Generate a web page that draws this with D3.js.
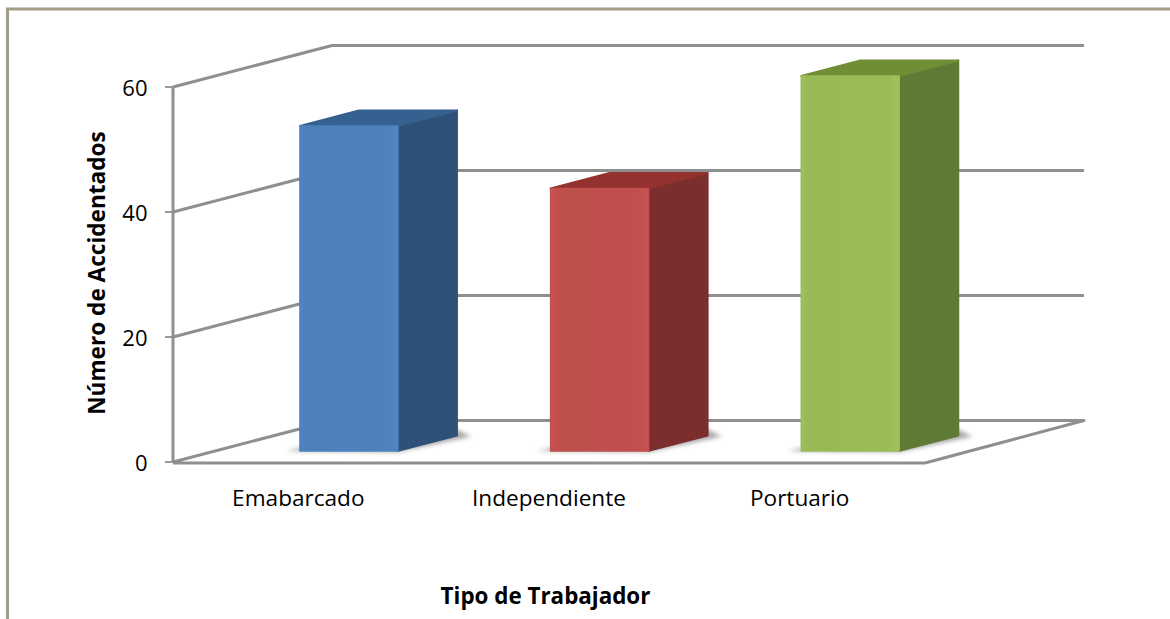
<!DOCTYPE html>
<html><head><meta charset="utf-8">
<script src="https://cdn.jsdelivr.net/npm/d3@7/dist/d3.min.js"></script>
<style>html,body{margin:0;padding:0;background:#fff}svg{display:block}text{font-family:"Open Sans",sans-serif;fill:#000}</style>
</head><body><div id="c"></div>
<script>
const categories = ["Emabarcado","Independiente","Portuario"];
const values = [52,42,60];
const tickValues = [0,20,40,60];
const frontColors = ["#4f81bd","#c0504d","#9bbb59"];
const topColors = ["#35608f","#93312f","#6f8f36"];
const sideColors = ["#2f5177","#7b2f2d","#5f7a34"];
const xTitle = "Tipo de Trabajador";
const yTitle = "Número de Accidentados";

const W=1170,H=619;
const svg=d3.select("#c").append("svg").attr("width",W).attr("height",H);
const defs=svg.append("defs");
const blur=defs.append("filter").attr("id","soft").attr("x","-5%").attr("y","-5%").attr("width","110%").attr("height","110%");
blur.append("feGaussianBlur").attr("stdDeviation",0.7);
const sh=defs.append("filter").attr("id","shadow").attr("x","-20%").attr("y","-200%").attr("width","140%").attr("height","500%");
sh.append("feGaussianBlur").attr("stdDeviation",2.2);
frontColors.forEach((c,i)=>{
  const g=defs.append("linearGradient").attr("id","front"+i);
  const b=d3.color(c).brighter(0.12), d=d3.color(c).darker(0.05);
  [[0,b],[0.04,c],[0.18,d],[0.5,c],[0.9,c],[1,b]].forEach(s=>g.append("stop").attr("offset",s[0]).attr("stop-color",s[1]));
});

// frame
svg.append("path").attr("d","M7.5,619V9H1170").attr("fill","none").attr("stroke","#a29e88").attr("stroke-width",3.2);

// scales: front plane, plus depth offset
const y=d3.scaleLinear().domain([0,60]).range([462,87]);
const x=d3.scaleBand().domain(categories).range([173,925]);
const depth=d3.scaleLinear().domain([0,1]).range([0,159]);
const rise=d3.scaleLinear().domain([0,1]).range([0,-41.5]);
const px=(v,t)=>v+depth(t), py=(v,t)=>y(v)+rise(t);
const line=d3.line();
const plot=svg.append("g").attr("filter","url(#soft)");
const grid="#8f8f8f";

// walls / gridlines
plot.append("g").selectAll("path").data(tickValues.filter(d=>d>0)).join("path")
  .attr("fill","none").attr("stroke",grid).attr("stroke-width",3).attr("stroke-linejoin","round")
  .attr("d",d=>line([[173,y(d)],[px(173,1),py(d,1)],[px(925,1),py(d,1)]]));
// floor
plot.append("path").attr("fill","none").attr("stroke",grid).attr("stroke-width",3).attr("stroke-linejoin","round")
  .attr("d",line([[173,y(0)],[px(173,1),py(0,1)],[px(925,1),py(0,1)],[925,y(0)+1],[173,y(0)+1]]));
// axis
plot.append("path").attr("fill","none").attr("stroke",grid).attr("stroke-width",3)
  .attr("d",line([[173,y(60)],[173,y(0)]]));
plot.append("g").selectAll("line").data(tickValues).join("line")
  .attr("x1",165).attr("x2",173).attr("y1",d=>y(d)).attr("y2",d=>y(d)).attr("stroke",grid).attr("stroke-width",1.8);

// bars
const t0=0.268,t1=0.639,barW=98,shift=8;
const bars=plot.append("g").selectAll("g").data(categories).join("g");
const bl=c=>x(c)+(x.bandwidth()-barW)/2+shift;
const val=c=>values[categories.indexOf(c)];
bars.append("path").attr("filter","url(#shadow)").attr("fill","#8a8a8a").attr("opacity",0.75)
  .attr("d",c=>line([[px(bl(c),t0)-14,py(0,t0)],[px(bl(c)+barW,t0),py(0,t0)+1],[px(bl(c)+barW,t1)+14,py(0,t1)+1],[px(bl(c)+barW,t1),py(0,t1)-6],[px(bl(c),t0),py(0,t0)-3]])+"Z");
bars.append("path").attr("fill",(c,i)=>sideColors[i])
  .attr("stroke",(c,i)=>sideColors[i]).attr("stroke-width",2).attr("stroke-linejoin","round")
  .attr("d",c=>line([[px(bl(c)+barW,t0),py(0,t0)],[px(bl(c)+barW,t1),py(0,t1)],[px(bl(c)+barW,t1),py(val(c),t1)],[px(bl(c)+barW,t0),py(val(c),t0)]])+"Z");
bars.append("path").attr("fill",(c,i)=>topColors[i])
  .attr("stroke",(c,i)=>topColors[i]).attr("stroke-width",2).attr("stroke-linejoin","round")
  .attr("d",c=>line([[px(bl(c),t0),py(val(c),t0)],[px(bl(c),t1),py(val(c),t1)],[px(bl(c)+barW,t1),py(val(c),t1)],[px(bl(c)+barW,t0),py(val(c),t0)]])+"Z");
bars.append("path").attr("fill",(c,i)=>`url(#front${i})`)
  .attr("stroke",(c,i)=>frontColors[i]).attr("stroke-width",1.5).attr("stroke-linejoin","round")
  .attr("d",c=>line([[px(bl(c),t0),py(0,t0)],[px(bl(c),t0),py(val(c),t0)],[px(bl(c)+barW,t0),py(val(c),t0)],[px(bl(c)+barW,t0),py(0,t0)]])+"Z");

// text
svg.append("g").selectAll("text").data(tickValues).join("text")
  .attr("x",147.5).attr("y",d=>y(d)+8.5).attr("text-anchor","end").attr("font-size",22).text(d=>d);
svg.append("g").selectAll("text").data(categories).join("text")
  .attr("x",c=>x(c)+x.bandwidth()/2).attr("y",506).attr("text-anchor","middle").attr("font-size",22.6).text(c=>c);
svg.append("text").attr("x",545.5).attr("y",604).attr("text-anchor","middle").attr("font-size",22.4).attr("font-weight",700).text(xTitle);
svg.append("text").attr("transform","translate(105,273) rotate(-90)").attr("text-anchor","middle").attr("font-size",22.6).attr("font-weight",700).text(yTitle);
</script></body></html>
